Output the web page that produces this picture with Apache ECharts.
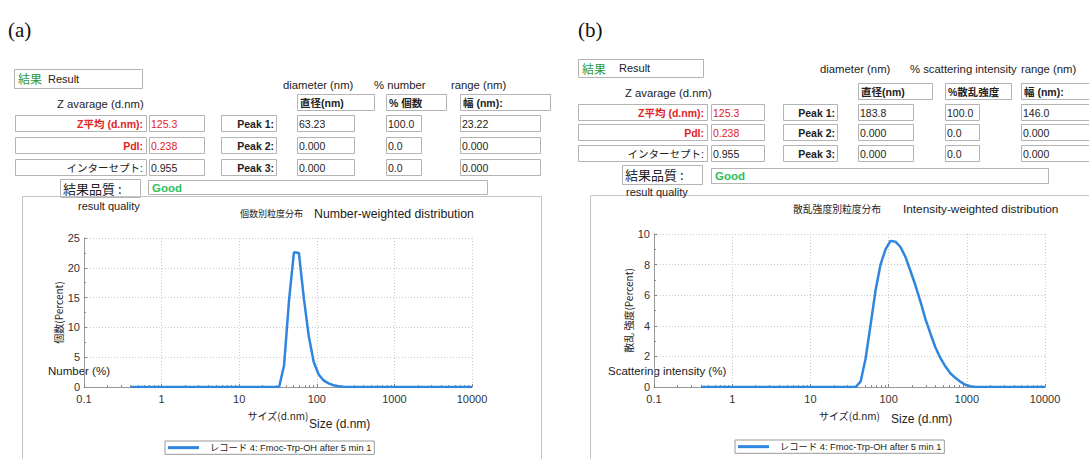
<!DOCTYPE html>
<html>
<head>
<meta charset="utf-8">
<script src="https://cdn.jsdelivr.net/npm/echarts@6/dist/echarts.min.js"></script>
<style>
  html, body { margin: 0; padding: 0; background: #fff; }
  #chart { width: 1089px; height: 459px; }
</style>
</head>
<body>
<div id="chart"></div>
<script>
// ---- Size distribution data (d.nm vs. percent) ----
const sizesNumber = [0.4, 32.67, 37.84, 43.82, 50.75, 58.77, 68.06, 78.82, 91.28, 105.7, 122.4, 141.8, 164.2, 190.1, 220.2, 255.0, 295.3, 10000];
const numberPercent = [0, 0, 3.6, 14.5, 22.6, 22.5, 14.9, 8.5, 4.2, 2.1, 1.1, 0.6, 0.3, 0.13, 0.05, 0.02, 0, 0];

const sizesIntensity = [0.4, 37.84, 43.82, 50.75, 58.77, 68.06, 78.82, 91.28, 105.7, 122.4, 141.8, 164.2, 190.1, 220.2, 255.0, 295.3, 342.0, 396.1, 458.7, 531.2, 615.1, 712.4, 825.0, 955.4, 1106, 1281, 10000];
const intensityPercent = [0, 0, 0.35, 1.85, 4.05, 6.3, 8.0, 9.0, 9.55, 9.5, 9.15, 8.5, 7.6, 6.65, 5.6, 4.45, 3.5, 2.6, 1.9, 1.35, 0.9, 0.6, 0.35, 0.15, 0.05, 0, 0];

const xTickLabels = ['0.1', '1', '10', '100', '1000', '10000'];
const yRangeNumber = [0, 25, 5];
const yRangeIntensity = [0, 10, 2];
const recordName = 'レコード 4: Fmoc-Trp-OH after 5 min 1';

// ---- Result tables ----
const zAverage = '125.3';
const pdi = '0.238';
const intercept = '0.955';
const quality = 'Good';
const peakLabels = ['Peak 1:', 'Peak 2:', 'Peak 3:'];
const peaksNumber = [['63.23', '100.0', '23.22'], ['0.000', '0.0', '0.000'], ['0.000', '0.0', '0.000']];
const peaksIntensity = [['183.8', '100.0', '146.0'], ['0.000', '0.0', '0.000'], ['0.000', '0.0', '0.000']];

const SANS = '"Liberation Sans", Arial, "Noto Sans CJK JP", sans-serif';
const JP = '"Noto Sans CJK JP", "Liberation Sans", sans-serif';
const LINE_BLUE = '#2f86de';
const BOX = '#b4b4b4';

const g = [];
function box(x, y, w, h, stroke) {
  g.push({ type: 'rect', shape: { x: x + 0.5, y: y + 0.5, width: w, height: h },
           style: { fill: 'none', stroke: stroke || BOX, lineWidth: 1 }, silent: true });
}
function txt(x, y, s, opt) {
  opt = opt || {};
  g.push({ type: 'text', silent: true, style: {
    text: s, x: x, y: y,
    fill: opt.color || '#222',
    font: (opt.weight || 'normal') + ' ' + (opt.size || 11) + 'px ' + (opt.family || SANS),
    align: opt.align || 'left', verticalAlign: 'middle'
  }});
}

function resultTable(t, headNames, colNames, peaks) {
  // "結果 Result" header box
  box(t.result[0], t.result[1], t.result[2], t.result[3]);
  txt(t.result[0] + 4, t.result[1] + t.result[3] / 2, '結果', { color: '#2e9a3c', size: 12, family: JP });
  txt(t.result[0] + t.resultGap, t.result[1] + t.result[3] / 2, 'Result', { size: 11 });
  // English column captions
  colNames.forEach((c, i) => txt(t.colHeadX[i], t.colHeadY, c, { size: 11.3 }));
  txt(t.zavg[0], t.zavg[1], 'Z avarage (d.nm)', { size: 11.3 });
  // Japanese column header boxes
  headNames.forEach((h, i) => {
    const c = t.cols[i];
    box(c[0], t.headY, t.headW[i], t.rowH);
    txt(c[0] + 3, t.headY + t.rowH / 2 + 0.5, h, { weight: 'bold', size: 10.5, family: SANS });
  });
  const leftLabels = [
    ['Z平均 (d.nm):', zAverage, '#e02424', true],
    ['PdI:', pdi, '#e02424', true],
    ['インターセプト:', intercept, '#222', false]
  ];
  t.rowsY.forEach((ry, r) => {
    const cy = ry + t.rowH / 2 + 0.5;
    const L = leftLabels[r];
    box(t.labelBox[0], ry, t.labelBox[1], t.rowH);
    txt(t.labelBox[0] + t.labelBox[1] - 3, cy, L[0], { color: L[2], weight: L[3] ? 'bold' : 'normal', align: 'right', size: 10.5 });
    box(t.valueBox[0], ry, t.valueBox[1], t.rowH);
    txt(t.valueBox[0] + 2, cy, L[1], { color: L[2], size: 10.5 });
    box(t.peakBox[0], ry, t.peakBox[1], t.rowH);
    txt(t.peakBox[0] + t.peakBox[1] - 2, cy, peakLabels[r], { weight: 'bold', align: 'right', size: 10.5 });
    t.cols.forEach((c, i) => {
      box(c[0], ry, c[1], t.rowH);
      txt(c[0] + 2, cy, peaks[r][i], { size: 10.5 });
    });
  });
  // quality row
  box(t.qual[0], t.qual[1], t.qual[2], t.qual[3]);
  txt(t.qual[0] + 3, t.qual[1] + t.qual[3] / 2, '結果品質 :', { size: 13, family: JP });
  box(t.good[0], t.good[1], t.good[2], t.good[3]);
  txt(t.good[0] + 4, t.good[1] + t.good[3] / 2 + 0.5, quality, { color: '#2fbf5a', weight: 'bold', size: 11.5 });
  // plot frame
  box(t.frame[0], t.frame[1], t.frame[2], t.frame[3], '#c4c4c4');
  txt(t.rq[0], t.rq[1], 'result quality', { size: 11 });
}

// panel (a)
txt(8, 30, '(a)', { size: 21, family: '"Liberation Serif", "Times New Roman", serif', color: '#111' });
resultTable({
  result: [14, 69, 128, 19], resultGap: 34,
  colHeadX: [283, 374, 451], colHeadY: 85,
  zavg: [57, 104],
  headY: 94, headW: [77, 60, 90],
  rowsY: [115, 137, 159], rowH: 16,
  labelBox: [15, 131], valueBox: [149, 55], peakBox: [221, 55],
  cols: [[297, 57], [386, 35], [460, 80]],
  qual: [60, 179, 80, 18], good: [148, 180, 339, 14],
  frame: [22, 196, 519, 290],
  rq: [78, 206]
}, ['直径(nm)', '% 個数', '幅 (nm):'], ['diameter (nm)', '% number', 'range (nm)'], peaksNumber);
txt(240, 213, '個数別粒度分布', { size: 9, family: JP });
txt(314, 214, 'Number-weighted distribution', { size: 12.3 });
txt(48, 371, 'Number (%)', { size: 11.5 });
txt(309, 424, 'Size (d.nm)', { size: 12 });

// panel (b)
txt(578, 30, '(b)', { size: 21, family: '"Liberation Serif", "Times New Roman", serif', color: '#111' });
resultTable({
  result: [578, 59, 125, 18], resultGap: 41,
  colHeadX: [820, 910, 1021], colHeadY: 69,
  zavg: [625, 93],
  headY: 83, headW: [74, 66, 80],
  rowsY: [104, 124, 145], rowH: 16,
  labelBox: [578, 129], valueBox: [711, 53], peakBox: [783, 54],
  cols: [[858, 55], [945, 34], [1021, 80]],
  qual: [622, 165, 80, 19], good: [711, 168, 337, 15],
  frame: [590, 195, 520, 290],
  rq: [626, 192]
}, ['直径(nm)', '%散乱強度', '幅 (nm):'], ['diameter (nm)', '% scattering intensity', 'range (nm)'], peaksIntensity);
txt(793, 209, '散乱強度別粒度分布', { size: 9.8, family: JP });
txt(903, 209, 'Intensity-weighted distribution', { size: 11.8 });
txt(608, 371, 'Scattering intensity (%)', { size: 11.5 });
txt(891, 419, 'Size (d.nm)', { size: 12 });

// ---- Axes ----
function logX(gridIndex) {
  return {
    type: 'log', logBase: 10, min: 0.1, max: 10000, gridIndex: gridIndex,
    name: 'サイズ(d.nm)', nameLocation: 'middle', nameGap: 23,
    nameTextStyle: { fontFamily: JP, fontSize: 10, color: '#222' },
    axisLine: { lineStyle: { color: '#9a9a9a', width: 1 } },
    axisTick: { show: true, inside: true, length: 3, lineStyle: { color: '#888' } },
    minorTick: { show: true, splitNumber: 9, length: 2, lineStyle: { color: '#888' } },
    axisLabel: { fontFamily: SANS, fontSize: 11, color: '#333', margin: 6,
      formatter: v => xTickLabels.find(s => Math.abs(Math.log10(+s) - Math.log10(v)) < 1e-6) || '' },
    splitLine: { show: true, lineStyle: { color: '#c9c9c9', type: [1, 2], width: 1 } }
  };
}
function valY(gridIndex, range, name, gap) {
  return {
    type: 'value', min: range[0], max: range[1], interval: range[2], gridIndex: gridIndex,
    name: name, nameLocation: 'middle', nameRotate: 90, nameGap: gap,
    nameTextStyle: { fontFamily: JP, fontSize: 10, color: '#222' },
    axisLine: { show: true, lineStyle: { color: '#9a9a9a', width: 1 } },
    axisTick: { show: true, inside: true, length: 3, lineStyle: { color: '#888' } },
    minorTick: { show: true, splitNumber: 2, length: 2, lineStyle: { color: '#888' } },
    axisLabel: { fontFamily: SANS, fontSize: 11, color: '#333', margin: 4 },
    splitLine: { show: true, lineStyle: { color: '#c9c9c9', type: [1, 2], width: 1 } }
  };
}

function legendAt(left, top) {
  return { data: [recordName], left: left, top: top, orient: 'horizontal', icon: 'rect',
    itemWidth: 31, itemHeight: 3, itemGap: 0, padding: [2, 3, 2, 3], borderColor: '#999', borderWidth: 1,
    textStyle: { fontFamily: SANS, fontSize: 9.3, color: '#222', padding: [0, 0, 0, 6] }, selectedMode: false };
}

const chart = echarts.init(document.getElementById('chart'), null, { renderer: 'svg' });
chart.setOption({
  animation: false,
  backgroundColor: '#fff',
  grid: [
    { left: 84, right: 1089 - 472, top: 238, bottom: 459 - 387 },
    { left: 654, right: 1089 - 1045, top: 234, bottom: 459 - 387 }
  ],
  xAxis: [logX(0), logX(1)],
  yAxis: [
    valY(0, yRangeNumber, '個数(Percent)', 19),
    valY(1, yRangeIntensity, '散乱 強度(Percent)', 21)
  ],
  legend: [legendAt(165, 441), legendAt(735, 440)],
  graphic: { elements: g },
  series: [
    { name: recordName, type: 'line', xAxisIndex: 0, yAxisIndex: 0, showSymbol: false,
      data: sizesNumber.map((s, i) => [s, numberPercent[i]]),
      lineStyle: { color: LINE_BLUE, width: 2.5 }, itemStyle: { color: LINE_BLUE } },
    { name: recordName, type: 'line', xAxisIndex: 1, yAxisIndex: 1, showSymbol: false,
      data: sizesIntensity.map((s, i) => [s, intensityPercent[i]]),
      lineStyle: { color: LINE_BLUE, width: 2.5 }, itemStyle: { color: LINE_BLUE } }
  ]
});
</script>
</body>
</html>
